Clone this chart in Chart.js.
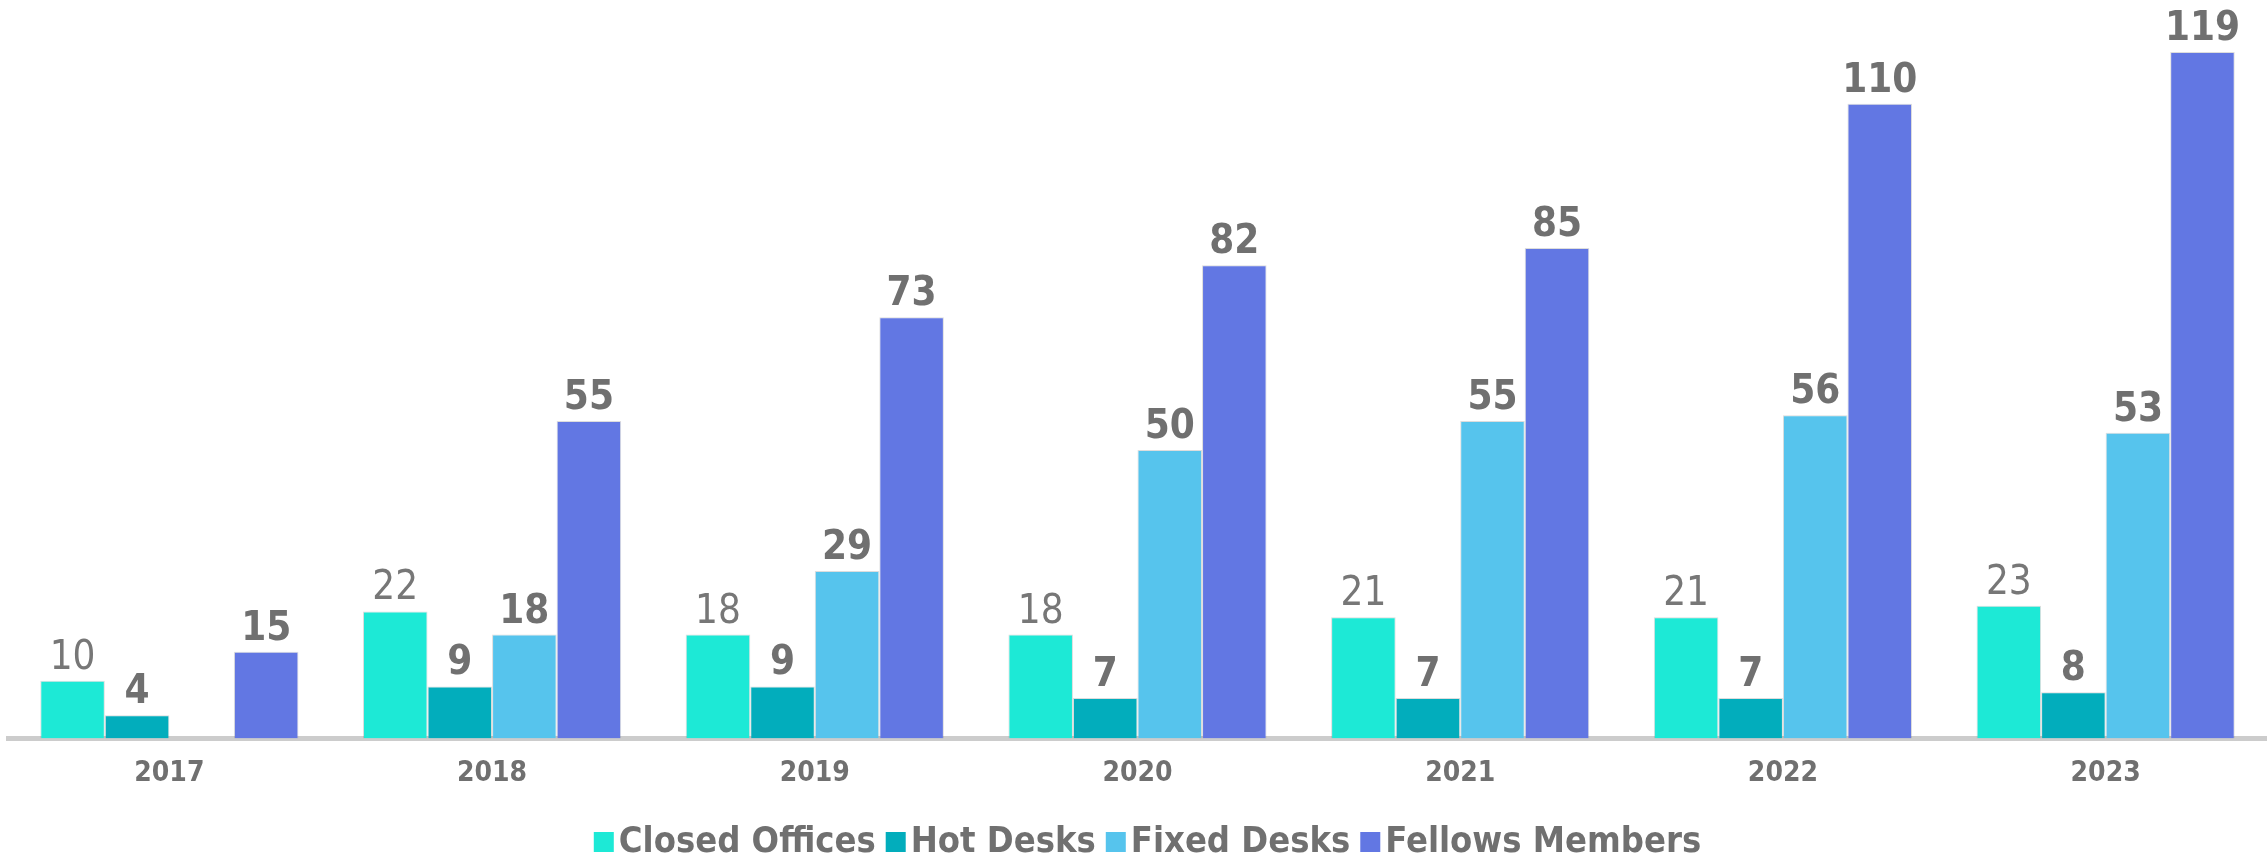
<!DOCTYPE html>
<html>
<head>
<meta charset="utf-8">
<script src="https://cdn.jsdelivr.net/npm/chart.js@4"></script>
<style>
  body { margin: 0; background: #fff; }
  #wrap { width: 2267px; height: 862px; }
</style>
</head>
<body>
<div id="wrap"><canvas id="deskChart"></canvas></div>
<script>
const years = ["2017", "2018", "2019", "2020", "2021", "2022", "2023"];
const closedOffices = [10, 22, 18, 18, 21, 21, 23];
const hotDesks = [4, 9, 9, 7, 7, 7, 8];
const fixedDesks = [null, 18, 29, 50, 55, 56, 53];
const fellowsMembers = [15, 55, 73, 82, 85, 110, 119];

const FONT = "'Liberation Sans Narrow', 'DejaVu Sans Condensed', Roboto, sans-serif";
const TEXT_GREY = "#707070";

// values above the bars (Closed Offices in regular weight, the rest bold)
const barLabels = {
  id: "barLabels",
  afterDatasetsDraw(chart) {
    const ctx = chart.ctx;
    ctx.save();
    ctx.textAlign = "center";
    ctx.textBaseline = "alphabetic";
    chart.data.datasets.forEach((ds, i) => {
      const meta = chart.getDatasetMeta(i);
      ctx.font = (i === 0 ? "normal " : "bold ") + "40px " + FONT;
      ctx.fillStyle = i === 0 ? "#777777" : TEXT_GREY;
      meta.data.forEach((bar, j) => {
        const v = ds.data[j];
        if (v === null || v === undefined) return;
        ctx.fillText(String(v), bar.x, bar.y - 12);
      });
    });
    ctx.restore();
  }
};

// legend drawn by hand so the box sits close to its text
const tightLegend = {
  id: "tightLegend",
  afterDraw(chart) {
    const ctx = chart.ctx;
    const box = 20, gap = 5, spacing = 10;
    ctx.save();
    ctx.font = "bold 36px " + FONT;
    ctx.textBaseline = "middle";
    const items = chart.data.datasets.map(ds => ({
      text: ds.label,
      color: ds.backgroundColor,
      w: box + gap + ctx.measureText(ds.label).width
    }));
    const total = items.reduce((s, it) => s + it.w, 0) + spacing * (items.length - 1);
    let x = (chart.width - total) / 2 + 14;
    const y = 842;
    items.forEach(it => {
      ctx.fillStyle = it.color;
      ctx.fillRect(x, y - box / 2, box, box);
      ctx.fillStyle = TEXT_GREY;
      ctx.fillText(it.text, x + box + gap, y + 1);
      x += it.w + spacing;
    });
    ctx.restore();
  }
};

const barStyle = {
  borderWidth: 1,
  borderColor: "rgba(120,120,120,0.25)",
  categoryPercentage: 0.8,
  barPercentage: 1.0
};

new Chart(document.getElementById("deskChart").getContext("2d"), {
  type: "bar",
  data: {
    labels: years,
    datasets: [
      { label: "Closed Offices", data: closedOffices, backgroundColor: "#1de9d6", ...barStyle },
      { label: "Hot Desks", data: hotDesks, backgroundColor: "#02adbc", ...barStyle },
      { label: "Fixed Desks", data: fixedDesks, backgroundColor: "#56c4ed", ...barStyle },
      { label: "Fellows Members", data: fellowsMembers, backgroundColor: "#6277e3", ...barStyle }
    ]
  },
  options: {
    responsive: true,
    maintainAspectRatio: false,
    animation: false,
    layout: { padding: { left: 8, right: 0, top: 0, bottom: 52 } },
    plugins: {
      legend: { display: false },
      tooltip: { enabled: false }
    },
    scales: {
      x: {
        grid: { display: false, drawTicks: false },
        border: { display: true, color: "#cccccc", width: 5 },
        ticks: {
          padding: 19,
          color: TEXT_GREY,
          font: { family: FONT, size: 28, weight: "bold" }
        }
      },
      y: {
        display: false,
        min: 0,
        max: 128
      }
    }
  },
  plugins: [barLabels, tightLegend]
});
</script>
</body>
</html>
